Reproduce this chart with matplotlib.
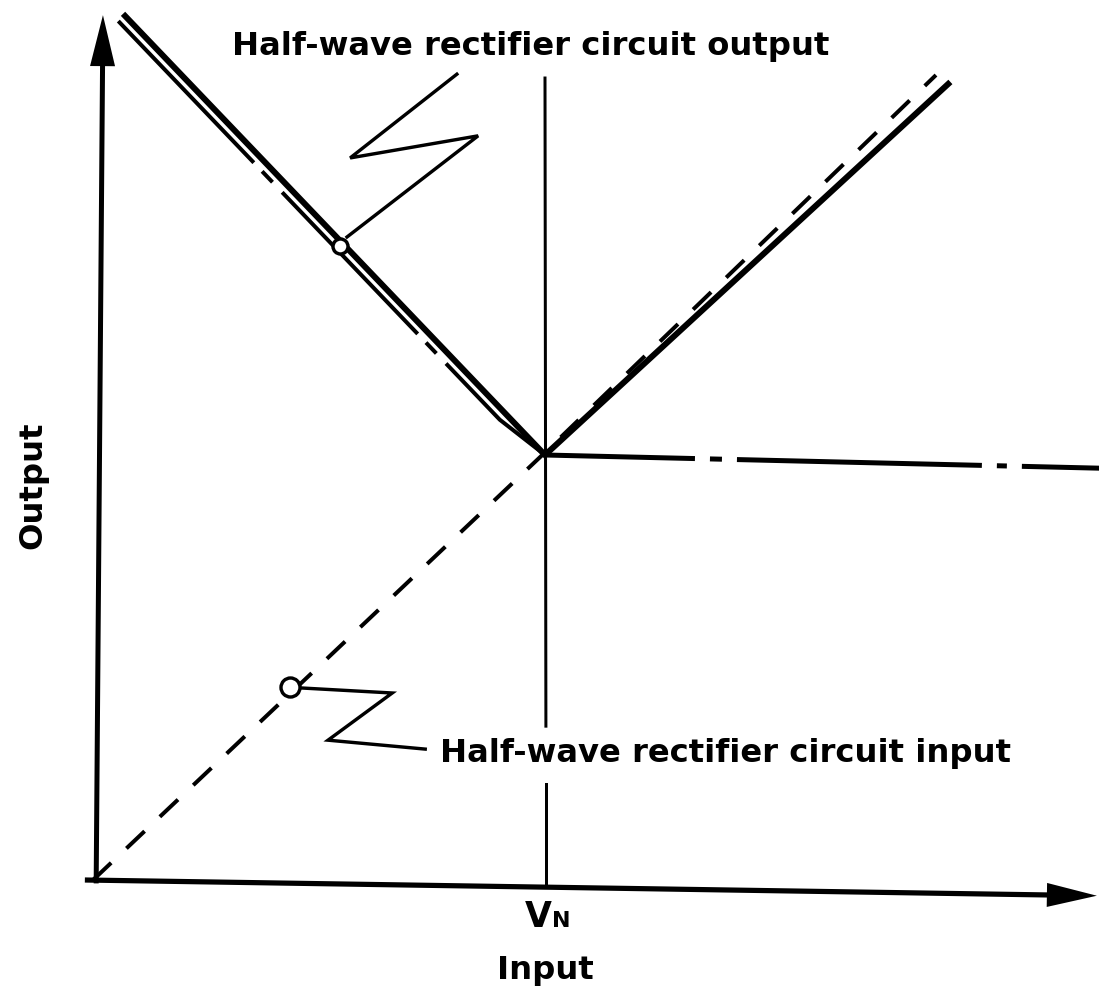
import numpy as np
import matplotlib
matplotlib.use("Agg")
import matplotlib.pyplot as plt
from matplotlib.patches import Polygon

plt.rcParams['font.family'] = ['DejaVu Sans']
plt.rcParams['lines.scale_dashes'] = False

# ---- values (input in units of V_N) ----
VN = 1.0
# half-wave rectifier output (solid)
output_x = [0.071, VN, 1.892]
output_y = [2.033, 1.0, 1.873]
# ideal reflected branch (dash-dot, left of V_N)
ideal_x = [0.056, 0.900, VN]
ideal_y = [2.021, 1.083, 1.0]
# rectifier input, y = x (dashed)
input_x = [0.0, VN, 1.865]
input_y = [0.0, 1.006, 1.894]
# threshold level to the right of V_N (dash-dot)
level_x = [VN, 2.226]
level_y = [1.0, 0.969]

# marker points for the callouts
out_marker = (0.547, 1.492)
in_marker = (0.436, 0.454)
out_leader_x = [0.562, 0.852, 0.569, 0.805]
out_leader_y = [1.513, 1.751, 1.699, 1.896]
in_leader_x = [0.458, 0.662, 0.520, 0.735]
in_leader_y = [0.452, 0.440, 0.329, 0.308]

title_out = "Half-wave rectifier circuit output"
title_in = "Half-wave rectifier circuit input"

W, H = 1099, 992
fig = plt.figure(figsize=(W / 100, H / 100), dpi=100)
ax = fig.add_axes([0, 0, 1, 1])
ax.set_xlim(-93 / 452, (W - 93) / 452)
ax.set_ylim((880 - H) / 425, 880 / 425)
ax.axis('off')

PX = 0.72  # points per pixel at 100 dpi


def arrow(start, tip, head_len, half_w, lw):
    p0 = ax.transData.transform(start)
    p1 = ax.transData.transform(tip)
    d = (p1 - p0) / np.hypot(*(p1 - p0))
    n = np.array([-d[1], d[0]])
    base = p1 - d * head_len
    shaft_end = ax.transData.inverted().transform(base + d * 2)
    ax.plot([start[0], shaft_end[0]], [start[1], shaft_end[1]],
            color='black', lw=lw, solid_capstyle='butt')
    tri = np.array([p1, base + n * half_w, base - n * half_w])
    tri = ax.transData.inverted().transform(tri)
    ax.add_patch(Polygon(tri, closed=True, color='black', lw=0))


# axes with arrowheads
arrow((0.007, -0.008), (0.022, 2.035), 51, 12.5, 5.0 * PX)
arrow((-0.018, 0.0), (2.221, -0.037), 50, 12, 5.2 * PX)

# V_N reference line, broken around the input label
ax.plot([VN, VN + 0.002], [1.887, 0.362], color='black', lw=3.0 * PX)
ax.plot([VN + 0.002, VN + 0.002], [0.226, -0.016], color='black', lw=3.0 * PX)

# curves
ax.plot(input_x, input_y, color='black', lw=4.0 * PX,
        dashes=(25 * PX, 21 * PX))
ax.plot(ideal_x, ideal_y, color='black', lw=4.0 * PX,
        dashes=(196 * PX, 12 * PX, 15 * PX, 14 * PX))
ax.plot(level_x, level_y, color='black', lw=5.0 * PX,
        dashes=(150 * PX, 15 * PX, 12 * PX, 15 * PX,
                245 * PX, 15 * PX, 10 * PX, 15 * PX))
ax.plot(output_x, output_y, color='black', lw=6.0 * PX,
        solid_joinstyle='miter')

# callout markers and leaders
ax.plot(out_leader_x, out_leader_y, color='black', lw=3.4 * PX,
        solid_joinstyle='miter')
ax.plot(in_leader_x, in_leader_y, color='black', lw=3.4 * PX,
        solid_joinstyle='miter')
ax.plot(*out_marker, 'o', ms=15 * PX, mfc='white', mec='black', mew=3.4 * PX)
ax.plot(*in_marker, 'o', ms=19 * PX, mfc='white', mec='black', mew=3.4 * PX)

# labels
fs = 23.2
kw = dict(fontsize=fs, fontweight='bold')
ax.text(0.969, 1.962, title_out, ha='center', va='center', **kw)
ax.text(0.768, 0.298, title_in, ha='left', va='center', **kw)
ax.text(-0.133, 0.929, "Output", ha='center', va='center', rotation=90, **kw)
ax.text(1.0, -0.212, "Input", ha='center', va='center', **kw)
ax.text(1.014, -0.110, "V", ha='right', va='baseline', fontsize=25,
        fontweight='bold')
ax.text(1.016, -0.110, "N", ha='left', va='baseline', fontsize=16,
        fontweight='bold')

fig.savefig("out.png", dpi=100)
